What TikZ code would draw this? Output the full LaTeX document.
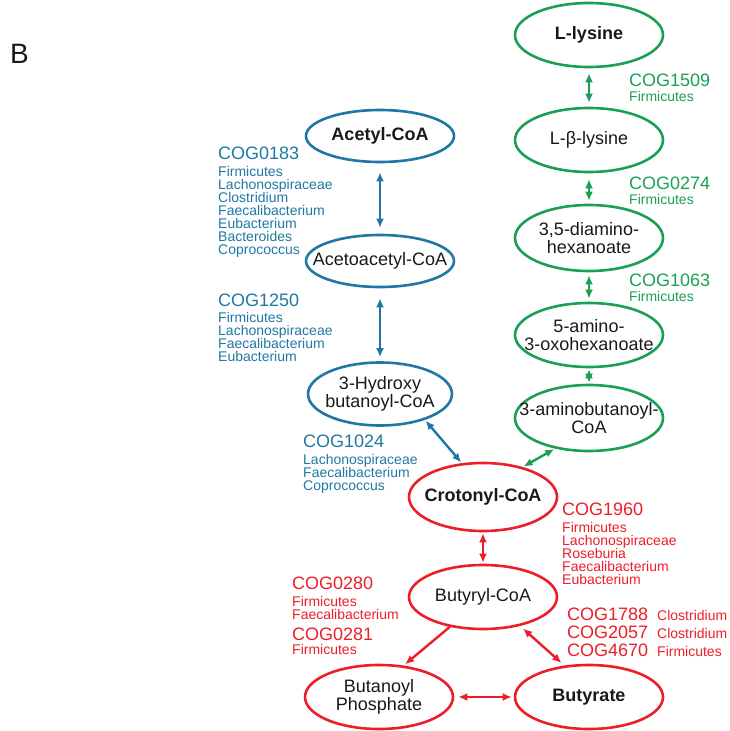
\documentclass[tikz,border=0pt]{standalone}
\usepackage{fontspec}
\setmainfont{Liberation Sans}
\usetikzlibrary{shapes.geometric,arrows.meta}
\definecolor{cblue}{RGB}{31,120,163}
\definecolor{cgreen}{RGB}{26,160,85}
\definecolor{cred}{RGB}{236,30,40}
\definecolor{ctext}{RGB}{25,25,25}
\newcommand{\tightlines}{\lineskiplimit=-20pt\relax}
\begin{document}
\begin{tikzpicture}[x=1pt,y=-1pt,
  met/.style={ellipse, draw, line width=2.6pt, minimum width=148pt, minimum height=64pt, inner sep=0pt},
  bl/.style={met, draw=cblue}, gr/.style={met, draw=cgreen}, rd/.style={met, draw=cred},
  lab/.style={inner sep=0pt, align=center, text=ctext, font=\fontsize{18}{17.5}\selectfont\tightlines},
  labb/.style={lab, font=\fontsize{18}{17.5}\selectfont\bfseries\tightlines},
  rx/.style={line width=2.4pt, {Latex[length=9pt,width=8pt]}-{Latex[length=9pt,width=8pt]}},
  ox/.style={line width=2.4pt, -{Latex[length=9pt,width=8pt]}},
  cog/.style={anchor=base west, inner sep=0pt, font=\fontsize{18}{18}\selectfont},
  sp/.style={anchor=base west, inner sep=0pt, align=left, font=\fontsize{14}{13}\selectfont\tightlines},
]
\useasboundingbox (0,0) rectangle (730,731);
\node[anchor=base west, inner sep=0pt, text=ctext, font=\fontsize{28}{28}\selectfont] (B) at (10,63) {B};
% blue
\node[bl, minimum height=52pt] (acetyl) at (380,136) {};
\node[labb] (acetylT) at (acetyl) {Acetyl-CoA};
\node[bl, minimum height=52pt] (acac) at (380,261) {};
\node[lab] (acacT) at (acac) {Acetoacetyl-CoA};
\node[bl, minimum width=144pt, minimum height=63pt] (hyd) at (380,394) {};
\node[lab] (hydT) at (hyd) {3-Hydroxy\\butanoyl-CoA};
% green
\node[gr] (lys) at (589,35) {};
\node[labb] (lysT) at (lys) {L-lysine};
\node[gr] (blys) at (589,140) {};
\node[lab] (blysT) at (blys) {L-β-lysine};
\node[gr, minimum height=66pt] (dia) at (589,238) {};
\node[lab] (diaT) at (dia) {3,5-diamino-\\hexanoate};
\node[gr] (oxo) at (589,335) {};
\node[lab] (oxoT) at (oxo) {5-amino-\\3-oxohexanoate};
\node[gr, minimum height=66pt] (amb) at (589,418) {};
\node[lab] (ambT) at (amb) {3-aminobutanoyl-\\CoA};
% red
\node[rd, minimum height=68pt] (crot) at (483,497) {};
\node[labb] (crotT) at (crot) {Crotonyl-CoA};
\node[rd] (buco) at (483,597) {};
\node[lab] (bucoT) at (buco) {Butyryl-CoA};
\node[rd] (bp) at (379,697) {};
\node[lab] (bpT) at (bp) {Butanoyl\\Phosphate};
\node[rd] (but) at (589,697) {};
\node[labb] (butT) at (but) {Butyrate};
% connectors
\draw[rx, cblue, shorten <=9pt, shorten >=6pt] (acetyl) -- (acac);
\draw[rx, cblue, shorten <=10pt, shorten >=4pt] (acac) -- (hyd);
\draw[rx, cblue, shorten <=1pt, shorten >=1pt] (hyd.-30) -- (crot.122);
\draw[rx, cgreen, shorten <=5pt, shorten >=4pt] (lys) -- (blys);
\draw[rx, cgreen, shorten <=6pt, shorten >=3pt] (blys) -- (dia);
\draw[rx, cgreen, shorten <=3pt, shorten >=3pt] (dia) -- (oxo);
\draw[rx, cgreen, shorten <=1pt, shorten >=1pt] (oxo) -- (amb);
\draw[rx, cgreen, shorten <=1pt, shorten >=1pt] (amb.222) -- (crot.37);
\draw[rx, cred, shorten <=1pt, shorten >=1pt] (crot) -- (buco);
\draw[ox, cred, shorten >=2pt] (buco.222) -- (bp.52);
\draw[rx, cred, shorten <=4pt, shorten >=4pt] (buco.-38) -- (but.128);
\draw[rx, cred, shorten <=4pt, shorten >=2pt] (bp) -- (but);
% blue labels
\node[cog, text=cblue] (c0183) at (218,159) {COG0183};
\node[sp, text=cblue] (s0183) at (218,254) {Firmicutes\\Lachonospiraceae\\Clostridium\\Faecalibacterium\\Eubacterium\\Bacteroides\\Coprococcus};
\node[cog, text=cblue] (c1250) at (218,306) {COG1250};
\node[sp, text=cblue] (s1250) at (218,361) {Firmicutes\\Lachonospiraceae\\Faecalibacterium\\Eubacterium};
\node[cog, text=cblue] (c1024) at (303,447) {COG1024};
\node[sp, text=cblue] (s1024) at (303,490) {Lachonospiraceae\\Faecalibacterium\\Coprococcus};
% green labels
\node[cog, text=cgreen] (c1509) at (629,86) {COG1509};
\node[sp, text=cgreen] (s1509) at (629,101) {Firmicutes};
\node[cog, text=cgreen] (c0274) at (629,189) {COG0274};
\node[sp, text=cgreen] (s0274) at (629,204) {Firmicutes};
\node[cog, text=cgreen] (c1063) at (629,286) {COG1063};
\node[sp, text=cgreen] (s1063) at (629,301) {Firmicutes};
% red labels
\node[cog, text=cred] (c1960) at (562,515) {COG1960};
\node[sp, text=cred] (s1960) at (562,584) {Firmicutes\\Lachonospiraceae\\Roseburia\\Faecalibacterium\\Eubacterium};
\node[cog, text=cred] (c0280) at (292,589) {COG0280};
\node[sp, text=cred] (s0280) at (292,619) {Firmicutes\\Faecalibacterium};
\node[cog, text=cred] (c0281) at (292,640) {COG0281};
\node[sp, text=cred] (s0281) at (292,654) {Firmicutes};
\node[cog, text=cred] (c1788) at (567,620) {COG1788};
\node[sp, text=cred] (s1788) at (657,620) {Clostridium};
\node[cog, text=cred] (c2057) at (567,638) {COG2057};
\node[sp, text=cred] (s2057) at (657,638) {Clostridium};
\node[cog, text=cred] (c4670) at (567,656) {COG4670};
\node[sp, text=cred] (s4670) at (657,656) {Firmicutes};
\end{tikzpicture}
\end{document}
